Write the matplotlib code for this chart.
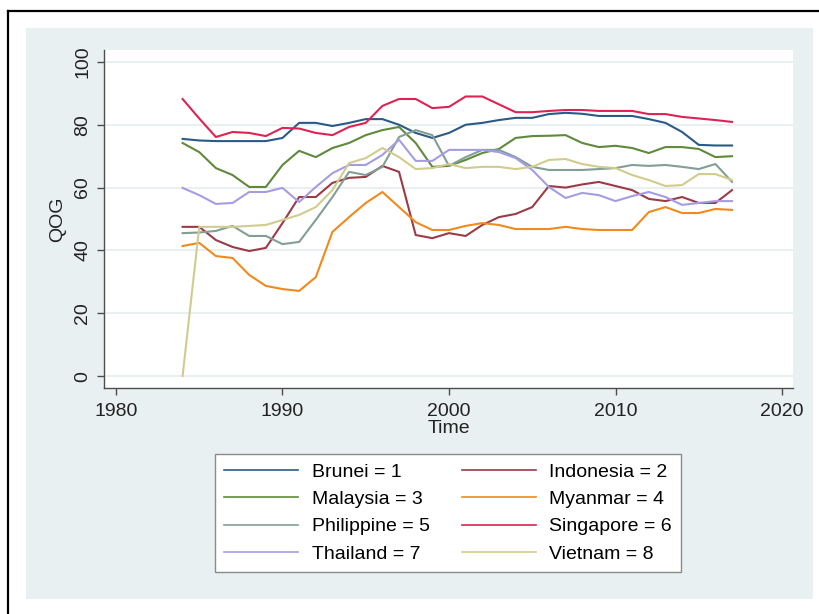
import matplotlib
matplotlib.use('Agg')
import matplotlib.pyplot as plt
from matplotlib.patches import Rectangle
from matplotlib.lines import Line2D

plt.rcParams['font.family'] = ['Liberation Sans', 'DejaVu Sans']

years = list(range(1984, 2018))

brunei = [75.5, 75.0, 74.8, 74.8, 74.8, 74.8, 75.8, 80.6, 80.6, 79.6, 80.6, 81.8, 81.8,
          80.0, 77.4, 75.8, 77.4, 80.0, 80.6, 81.5, 82.2, 82.2, 83.4, 83.8, 83.5, 82.8,
          82.8, 82.8, 81.8, 80.6, 77.7, 73.6, 73.4, 73.4]
indonesia = [47.5, 47.5, 43.3, 41.1, 39.8, 40.8, 48.7, 57.0, 57.0, 61.5, 63.1, 63.4, 66.9,
             65.0, 44.9, 43.9, 45.5, 44.6, 48.1, 50.6, 51.6, 53.8, 60.5, 60.0, 61.0, 61.8,
             60.5, 59.2, 56.4, 55.7, 57.0, 55.1, 55.1, 59.2]
malaysia = [74.2, 71.3, 66.2, 64.0, 60.2, 60.2, 67.2, 71.7, 69.7, 72.6, 74.2, 76.7, 78.3,
            79.3, 74.2, 66.6, 66.9, 68.8, 71.0, 72.3, 75.8, 76.4, 76.5, 76.7, 74.2, 72.9,
            73.3, 72.6, 71.0, 72.9, 72.9, 72.3, 69.7, 70.0]
myanmar = [41.4, 42.4, 38.2, 37.6, 32.2, 28.7, 27.7, 27.1, 31.5, 45.9, 50.6, 55.1, 58.6,
           53.8, 49.0, 46.5, 46.5, 47.8, 48.7, 48.1, 46.8, 46.8, 46.8, 47.5, 46.8, 46.5,
           46.5, 46.5, 52.2, 53.8, 51.9, 51.9, 53.2, 52.9]
philippine = [45.5, 45.7, 46.2, 47.8, 44.6, 44.6, 42.0, 42.7, 49.7, 57.0, 65.0, 64.0, 66.6,
              76.1, 78.3, 76.7, 66.9, 69.7, 72.0, 72.0, 69.7, 66.6, 65.6, 65.6, 65.6, 65.9,
              66.2, 67.2, 66.9, 67.2, 66.6, 65.9, 67.5, 61.8]
singapore = [88.2, 82.0, 76.1, 77.7, 77.4, 76.4, 79.0, 78.8, 77.4, 76.7, 79.3, 80.6, 86.0,
             88.2, 88.2, 85.3, 85.7, 89.0, 89.0, 86.5, 84.0, 84.0, 84.4, 84.7, 84.7, 84.4,
             84.4, 84.4, 83.4, 83.4, 82.5, 82.0, 81.5, 80.9]
thailand = [59.9, 57.6, 54.8, 55.1, 58.6, 58.6, 59.9, 55.4, 60.2, 64.6, 67.2, 67.2, 70.4,
            75.2, 68.5, 68.5, 72.0, 72.0, 72.0, 71.3, 69.4, 65.6, 60.2, 56.7, 58.3, 57.6,
            55.7, 57.3, 58.6, 57.0, 54.5, 55.1, 55.7, 55.7]
vietnam = [0.0, 47.5, 47.5, 47.5, 47.8, 48.1, 49.7, 51.3, 53.8, 59.2, 67.8, 69.4, 72.6,
           69.7, 65.9, 66.2, 67.5, 66.2, 66.6, 66.6, 65.9, 66.6, 68.8, 69.1, 67.5, 66.6,
           66.2, 64.0, 62.4, 60.5, 60.8, 64.3, 64.3, 62.4]

labels = ['Brunei = 1', 'Indonesia = 2', 'Malaysia = 3', 'Myanmar = 4',
          'Philippine = 5', 'Singapore = 6', 'Thailand = 7', 'Vietnam = 8']
series = [brunei, indonesia, malaysia, myanmar, philippine, singapore, thailand, vietnam]
colors = ['#2b5a86', '#9c3b48', '#5f8a3b', '#f08a1c',
          '#819f96', '#de2354', '#a59de2', '#d2cb8e']

fig = plt.figure(figsize=(8.2, 6.14), dpi=100)
fig.patch.set_facecolor('white')

W, H = 820, 614
# outer light background and black frame (pixel coords -> figure fraction)
fig.patches.append(Rectangle((26 / W, 1 - 599 / H), (813 - 26) / W, (599 - 28) / H,
                             transform=fig.transFigure, facecolor='#e9f0f2',
                             edgecolor='none', zorder=-10))
fig.lines.append(Line2D([8 / W, 1.0], [1 - 11 / H, 1 - 11 / H], transform=fig.transFigure,
                        color='black', linewidth=1.6, zorder=-5))
fig.lines.append(Line2D([8 / W, 8 / W], [0.0, 1 - 11 / H], transform=fig.transFigure,
                        color='black', linewidth=1.6, zorder=-5))

ax = fig.add_axes([104 / W, 1 - 388 / H, (793 - 104) / W, (388 - 50) / H])
ax.set_facecolor('white')
ax.set_zorder(1)

handles = []
for vals, lab, col in zip(series, labels, colors):
    h, = ax.plot(years, vals, color=col, linewidth=1.5, label=lab, zorder=3)
    handles.append(h)

ax.set_xlim(1979.28, 2020.66)
ax.set_ylim(-3.8, 103.8)
ax.set_xticks([1980, 1990, 2000, 2010, 2020])
ax.set_yticks([0, 20, 40, 60, 80, 100])
ax.grid(axis='y', color='#e4edef', linewidth=1.2, zorder=0)
ax.grid(axis='x', visible=False)

for s in ['top', 'right']:
    ax.spines[s].set_visible(False)
for s in ['left', 'bottom']:
    ax.spines[s].set_color('#4d4d4d')
    ax.spines[s].set_linewidth(1.0)

ax.tick_params(axis='both', colors='#4d4d4d', labelcolor='#222222', length=5,
               width=1.0, labelsize=14)
ax.tick_params(axis='x', pad=6)
ax.tick_params(axis='y', pad=4)
for t in ax.get_yticklabels():
    t.set_rotation(90)
    t.set_va('center')

ax.set_ylabel('QOG', fontsize=14, color='#222222', labelpad=6)
ax.set_xlabel('Time', fontsize=14, color='#222222', labelpad=0)

# legend in row-major order like the original
order = [0, 2, 4, 6, 1, 3, 5, 7]
leg = fig.legend([handles[i] for i in order], [labels[i] for i in order],
                 loc='center', bbox_to_anchor=(448 / W, 1 - 513 / H), ncol=2,
                 fontsize=14, frameon=True, fancybox=False, framealpha=1,
                 handlelength=3.8, handletextpad=0.7, columnspacing=1.65,
                 labelspacing=0.5, borderpad=0.45, borderaxespad=0)
leg.get_frame().set_edgecolor('#8a8a8a')
leg.get_frame().set_linewidth(1.0)
for ln in leg.get_lines():
    ln.set_linewidth(1.2)

plt.savefig('out.png', dpi=100)
